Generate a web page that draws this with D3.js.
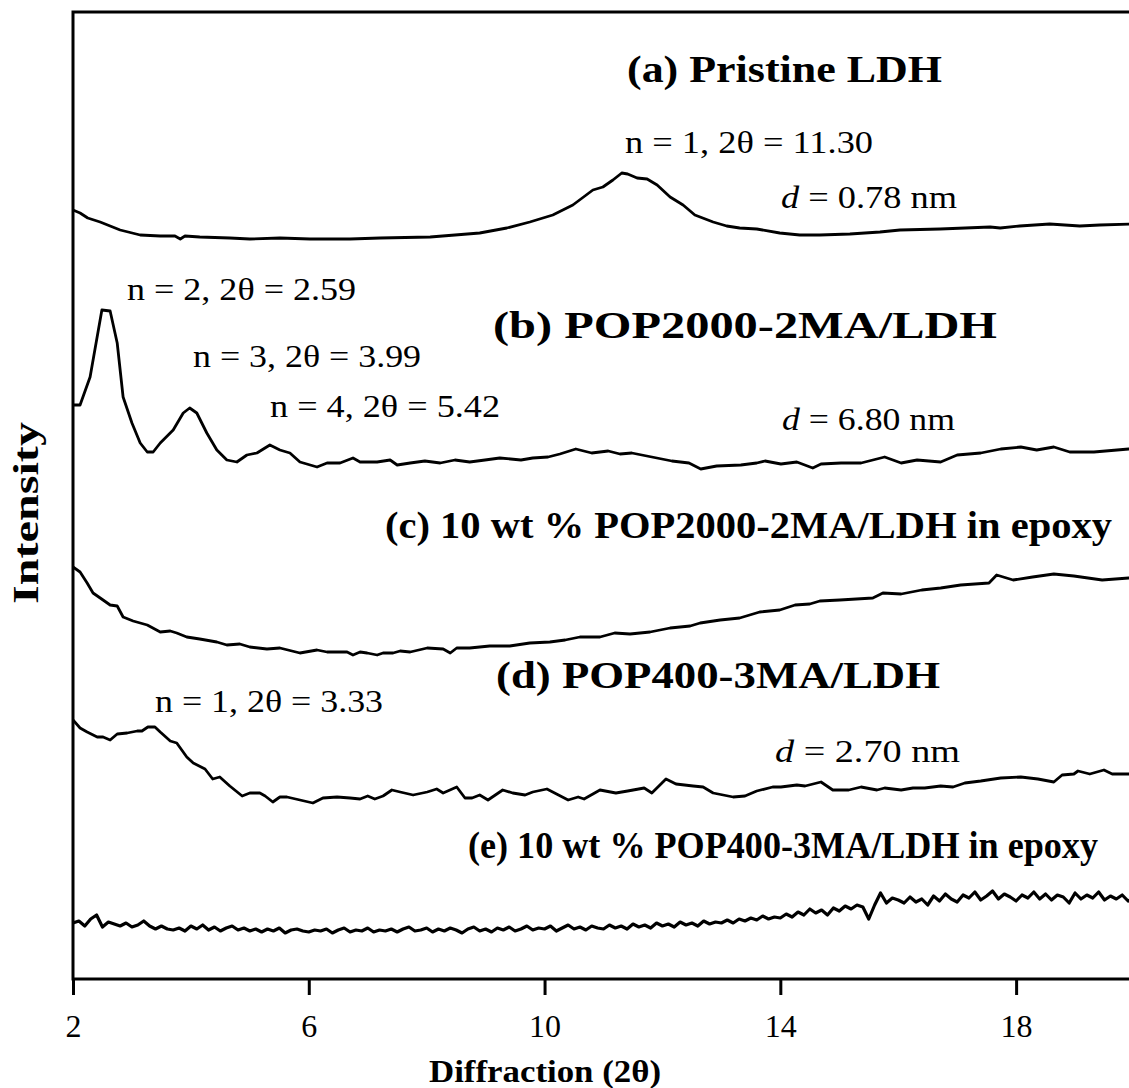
<!DOCTYPE html>
<meta charset="utf-8">
<style>

body {
  margin: 0;
  background: #fff;
}

svg {
  display: block;
}

svg text {
  font-family: "Liberation Serif", Tinos, "Times New Roman", Times, "Nimbus Roman", "Noto Serif", serif;
  fill: #000;
}

.trace {
  fill: none;
  stroke: #000;
  stroke-width: 2.8px;
  stroke-linejoin: round;
}

.trace.noisy {
  stroke-width: 3.2px;
}

.frame {
  fill: none;
  stroke: #000;
  stroke-width: 3px;
}

.axis path {
  display: none;
}

.axis line {
  stroke: #000;
  stroke-width: 3px;
}

.axis text {
  font-size: 32px;
}

</style>
<svg width="1129" height="1088"></svg>
<script src="https://d3js.org/d3.v7.min.js"></script>
<script>

// 2theta / intensity (a.u., traces already offset as in the figure)
var pristineLDH = [[2.00,769],[2.12,766],[2.25,761],[2.46,757],[2.63,753],[2.80,749],[3.14,744],[3.48,743],[3.73,743],[3.82,740],[3.90,743],[4.15,742],[4.66,741],[5.00,740],[5.51,741],[6.02,740],[6.70,740],[7.21,741],[8.06,742],[8.90,746],[9.36,751],[9.75,757],[10.14,764],[10.48,774],[10.82,789],[10.99,792],[11.16,799],[11.31,806],[11.41,805],[11.57,801],[11.74,800],[11.91,794],[12.13,782],[12.35,774],[12.55,764],[12.86,757],[13.09,753],[13.31,751],[13.60,750],[13.99,746],[14.33,744],[14.67,744],[15.18,745],[15.69,747],[16.03,749],[16.71,750],[17.56,752],[17.73,751],[18.06,753],[18.57,755],[19.08,753],[19.42,754],[20.00,755]];

var pop2000LDH = [[2.00,574],[2.12,574],[2.29,602],[2.49,669],[2.63,668],[2.75,636],[2.85,582],[3.00,556],[3.14,536],[3.26,527],[3.36,527],[3.48,536],[3.70,549],[3.87,566],[3.98,571],[4.10,566],[4.27,546],[4.44,529],[4.61,519],[4.78,517],[4.95,524],[5.12,526],[5.34,534],[5.51,529],[5.68,526],[5.85,517],[6.14,512],[6.31,516],[6.53,516],[6.75,521],[6.87,517],[7.16,517],[7.38,519],[7.50,514],[7.72,516],[7.97,518],[8.23,516],[8.48,519],[8.73,517],[8.99,519],[9.24,521],[9.60,519],[9.80,521],[10.06,522],[10.26,525],[10.53,530],[10.80,526],[11.08,528],[11.28,525],[11.48,526],[11.82,522],[12.16,518],[12.45,516],[12.65,510],[12.92,513],[13.33,514],[13.60,516],[13.74,518],[14.01,515],[14.28,517],[14.55,511],[14.69,515],[15.03,516],[15.37,516],[15.77,522],[16.05,516],[16.32,519],[16.72,517],[17.00,524],[17.40,526],[17.74,530],[18.08,532],[18.35,529],[18.64,532],[18.91,527],[19.32,527],[19.91,530],[20.00,530]];

var pop2000Epoxy = [[2.00,412],[2.12,407],[2.24,396],[2.34,386],[2.51,379],[2.63,374],[2.75,373],[2.85,362],[3.02,358],[3.26,354],[3.48,347],[3.65,348],[3.76,346],[3.93,342],[4.15,340],[4.44,337],[4.61,334],[4.83,335],[5.00,332],[5.29,330],[5.51,331],[5.85,326],[6.14,329],[6.31,327],[6.65,327],[6.75,324],[6.87,327],[6.99,326],[7.16,324],[7.26,326],[7.43,326],[7.55,328],[7.72,327],[8.01,331],[8.28,330],[8.40,326],[8.51,331],[8.73,331],[9.07,333],[9.41,333],[9.75,336],[10.09,337],[10.35,339],[10.60,342],[10.94,342],[11.19,346],[11.45,345],[11.79,347],[12.13,351],[12.47,353],[12.64,356],[12.98,359],[13.31,361],[13.65,367],[13.99,369],[14.25,374],[14.50,375],[14.67,378],[15.01,379],[15.57,381],[15.74,386],[16.05,385],[16.40,389],[16.72,391],[17.06,394],[17.54,396],[17.67,404],[17.95,399],[18.28,402],[18.64,405],[18.98,403],[19.46,399],[19.91,401],[20.00,401]];

var pop400LDH = [[2.00,259],[2.12,251],[2.24,247],[2.41,242],[2.51,242],[2.63,239],[2.75,245],[2.92,246],[3.09,248],[3.17,248],[3.27,252],[3.39,252],[3.48,247],[3.65,238],[3.76,236],[3.93,222],[4.04,216],[4.24,210],[4.37,200],[4.49,202],[4.66,193],[4.87,183],[5.00,186],[5.17,186],[5.26,183],[5.39,177],[5.51,182],[5.63,182],[5.85,179],[6.07,176],[6.24,181],[6.48,182],[6.70,181],[6.87,180],[7.00,183],[7.12,180],[7.26,183],[7.41,189],[7.55,187],[7.77,184],[8.01,187],[8.17,190],[8.28,186],[8.51,192],[8.65,181],[8.77,181],[8.90,184],[9.04,179],[9.29,189],[9.46,186],[9.67,184],[9.80,187],[10.04,190],[10.40,179],[10.57,182],[10.67,180],[10.94,189],[11.21,186],[11.41,188],[11.69,191],[11.82,186],[12.06,200],[12.23,195],[12.52,193],[12.69,192],[12.86,186],[13.20,182],[13.40,183],[13.60,188],[13.87,192],[14.01,192],[14.28,194],[14.42,193],[14.69,197],[14.89,189],[15.16,189],[15.37,192],[15.64,189],[15.77,191],[16.05,189],[16.25,191],[16.45,191],[16.72,193],[16.93,192],[17.13,196],[17.40,198],[17.74,201],[18.08,202],[18.37,200],[18.64,197],[18.78,204],[18.98,205],[19.05,208],[19.25,205],[19.49,209],[19.63,205],[19.91,205],[20.00,205]];

// trace (e) is recorded on a 0.1 degree grid starting at 2
var pop400EpoxyStart = 2, pop400EpoxyStep = 0.1;
var pop400Epoxy = [
  56,58,53,60,64,52,57,55,53,56,
  52,54,58,53,50,53,50,49,51,48,
  53,50,54,49,52,48,51,53,49,51,
  48,50,47,50,48,51,46,49,50,48,
  47,49,48,50,46,49,51,47,49,48,
  51,47,49,48,50,47,50,52,48,49,
  51,47,50,48,51,49,46,50,52,48,
  50,47,51,49,52,48,50,53,49,51,
  50,53,48,51,54,50,52,49,53,51,
  50,54,51,53,50,55,52,54,51,56,
  53,55,52,57,54,56,53,58,55,57,
  56,59,56,60,58,61,59,63,60,62,
  61,65,62,67,64,70,66,69,64,71,
  68,73,70,74,72,60,74,86,76,81,
  79,76,82,77,80,74,83,78,85,80,
  77,84,81,87,79,83,88,80,85,82,
  78,84,81,87,80,85,79,84,82,76,
  86,80,84,81,87,79,83,80,84,78,
  81];

var xTicks = [2, 6, 10, 14, 18];

var sampleNames = ["(a) Pristine LDH", "(b) POP2000-2MA/LDH", "(c) 10 wt % POP2000-2MA/LDH in epoxy", "(d) POP400-3MA/LDH", "(e) 10 wt % POP400-3MA/LDH in epoxy"];
var peakNotes = ["n = 1, 2\u03b8 = 11.30", "n = 2, 2\u03b8 = 2.59", "n = 3, 2\u03b8 = 3.99", "n = 4, 2\u03b8 = 5.42", "n = 1, 2\u03b8 = 3.33"];
var spacingNotes = ["0.78", "6.80", "2.70"];

// label layout: [x, baseline, width]
var namePos = [[627,82,315],[493,338,504],[385,538,727],[496,688,444],[468,858,630]];
var peakPos = [[625,153,248],[127,300,229],[193,367,228],[270,417,230],[155,712,228]];
var spacingPos = [[781,208,176],[782,430,173],[775,762,185]];

var svg = d3.select("svg");

var x = d3.scaleLinear()
    .domain([2, 20])
    .range([73, 1134]);

var y = d3.scaleLinear()
    .domain([0, 967])
    .range([979, 12]);

var line = d3.line()
    .x(function(d) { return x(d[0]); })
    .y(function(d) { return y(d[1]); });

var epoxyE = pop400Epoxy.map(function(v, i) { return [pop400EpoxyStart + i * pop400EpoxyStep, v]; });

var traces = [pristineLDH, pop2000LDH, pop2000Epoxy, pop400LDH, epoxyE];

svg.append("defs").append("clipPath")
    .attr("id", "plot")
  .append("rect")
    .attr("x", x(2)).attr("y", y(967))
    .attr("width", x(20) - x(2)).attr("height", y(0) - y(967));

svg.append("g")
    .attr("clip-path", "url(#plot)")
  .selectAll("path")
  .data(traces)
  .enter().append("path")
    .attr("class", function(d, i) { return i === 4 ? "trace noisy" : "trace"; })
    .attr("d", line);

svg.append("rect")
    .attr("class", "frame")
    .attr("x", x(2)).attr("y", y(967))
    .attr("width", x(20) - x(2)).attr("height", y(0) - y(967));

var xAxis = svg.append("g")
    .attr("class", "axis")
    .attr("transform", "translate(0," + y(0) + ")")
    .call(d3.axisBottom(x).tickValues(xTicks).tickSize(16).tickSizeOuter(0));

xAxis.selectAll("text")
    .attr("y", 58)
    .attr("dy", 0);

function label(txt, pos, bold, size) {
  return svg.append("text")
      .attr("x", pos[0])
      .attr("y", pos[1])
      .attr("textLength", pos[2])
      .attr("lengthAdjust", "spacingAndGlyphs")
      .style("font-size", size + "px")
      .style("font-weight", bold ? "bold" : "normal")
      .text(txt);
}

sampleNames.forEach(function(t, i) { label(t, namePos[i], true, 37); });
peakNotes.forEach(function(t, i) { label(t, peakPos[i], false, 32); });

spacingNotes.forEach(function(t, i) {
  var p = spacingPos[i];
  var tx = svg.append("text")
      .attr("x", p[0])
      .attr("y", p[1])
      .attr("textLength", p[2])
      .attr("lengthAdjust", "spacingAndGlyphs")
      .style("font-size", "32px");
  tx.append("tspan").style("font-style", "italic").text("d");
  tx.append("tspan").text(" = " + t + " nm");
});

svg.append("text")
    .attr("transform", "translate(38,513) rotate(-90)")
    .attr("text-anchor", "middle")
    .attr("textLength", 182)
    .attr("lengthAdjust", "spacingAndGlyphs")
    .style("font-size", "36px")
    .style("font-weight", "bold")
    .text("Intensity");

svg.append("text")
    .attr("x", 545)
    .attr("y", 1082)
    .attr("text-anchor", "middle")
    .attr("textLength", 232)
    .attr("lengthAdjust", "spacingAndGlyphs")
    .style("font-size", "32px")
    .style("font-weight", "bold")
    .text("Diffraction (2\u03b8)");

</script>
